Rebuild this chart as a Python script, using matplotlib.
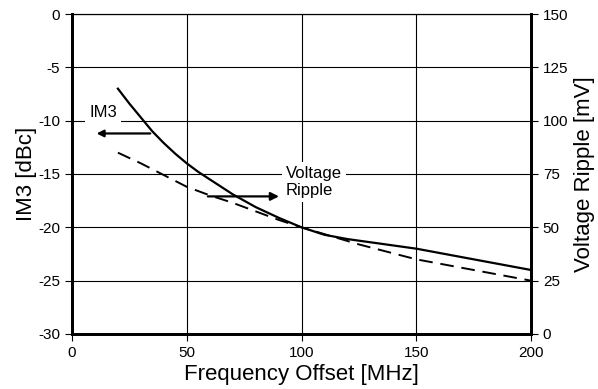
import matplotlib.pyplot as plt

plt.rcParams['font.family'] = ['Liberation Sans', 'DejaVu Sans']
plt.rcParams['axes.unicode_minus'] = False

# IM3 (left axis, dBc)
freq_im3 = [20, 25, 30, 35, 40, 45, 50, 55, 60, 65, 70, 80, 90, 100, 110, 120, 150, 175, 200]
im3 = [-7.0, -8.4, -9.7, -11.0, -12.1, -13.1, -14.0, -14.8, -15.5, -16.2, -16.9,
       -18.1, -19.1, -20.0, -20.7, -21.1, -22.0, -23.0, -24.0]

# Voltage ripple (right axis, mV)
freq_rip = [20, 30, 40, 50, 60, 70, 80, 90, 100, 125, 150, 175, 200]
ripple = [85, 80, 74.5, 69, 65, 61.5, 57.5, 53.5, 50, 42, 35, 30, 25]

fig = plt.figure(figsize=(5.98, 3.89), dpi=100)
ax = fig.add_axes([0.1204, 0.1414, 0.7676, 0.8226])
ax2 = ax.twinx()

ax.plot(freq_im3, im3, color='black', lw=1.6, zorder=3)
ax2.plot(freq_rip, ripple, color='black', lw=1.4, dashes=(7, 4), zorder=3)

ax.set_xlim(0, 200)
ax.set_ylim(-30, 0)
ax2.set_ylim(0, 150)
ax.set_xticks([0, 50, 100, 150, 200])
ax.set_yticks(range(-30, 1, 5))
ax2.set_yticks(range(0, 151, 25))
ax.grid(True, color='black', lw=0.8)

for a in (ax, ax2):
    a.tick_params(direction='out', length=5, width=0.8, labelsize=11, color='black')
    a.spines['top'].set_linewidth(0.8)
    for s in ('left', 'right', 'bottom'):
        a.spines[s].set_linewidth(2)

ax.set_xlabel('Frequency Offset [MHz]', fontsize=16, labelpad=3)
ax.set_ylabel('IM3 [dBc]', fontsize=16, labelpad=1)
ax2.set_ylabel('Voltage Ripple [mV]', fontsize=16, labelpad=4)

ax.text(7.5, -9.2, 'IM3', fontsize=12, ha='left', va='center', zorder=4,
        bbox=dict(facecolor='white', edgecolor='none', pad=3))
ax.annotate('', xy=(9.5, -11.2), xytext=(35.3, -11.2),
            arrowprops=dict(arrowstyle='-|>', color='black', lw=1.6, mutation_scale=10))
ax.text(93.2, -15.75, 'Voltage\nRipple', fontsize=12, ha='left', va='center', zorder=4,
        linespacing=1.15, bbox=dict(facecolor='white', edgecolor='none', pad=3))
ax.annotate('', xy=(91.4, -17.1), xytext=(58, -17.1),
            arrowprops=dict(arrowstyle='-|>', color='black', lw=1.6, mutation_scale=12))

fig.savefig('out.png', dpi=100)
